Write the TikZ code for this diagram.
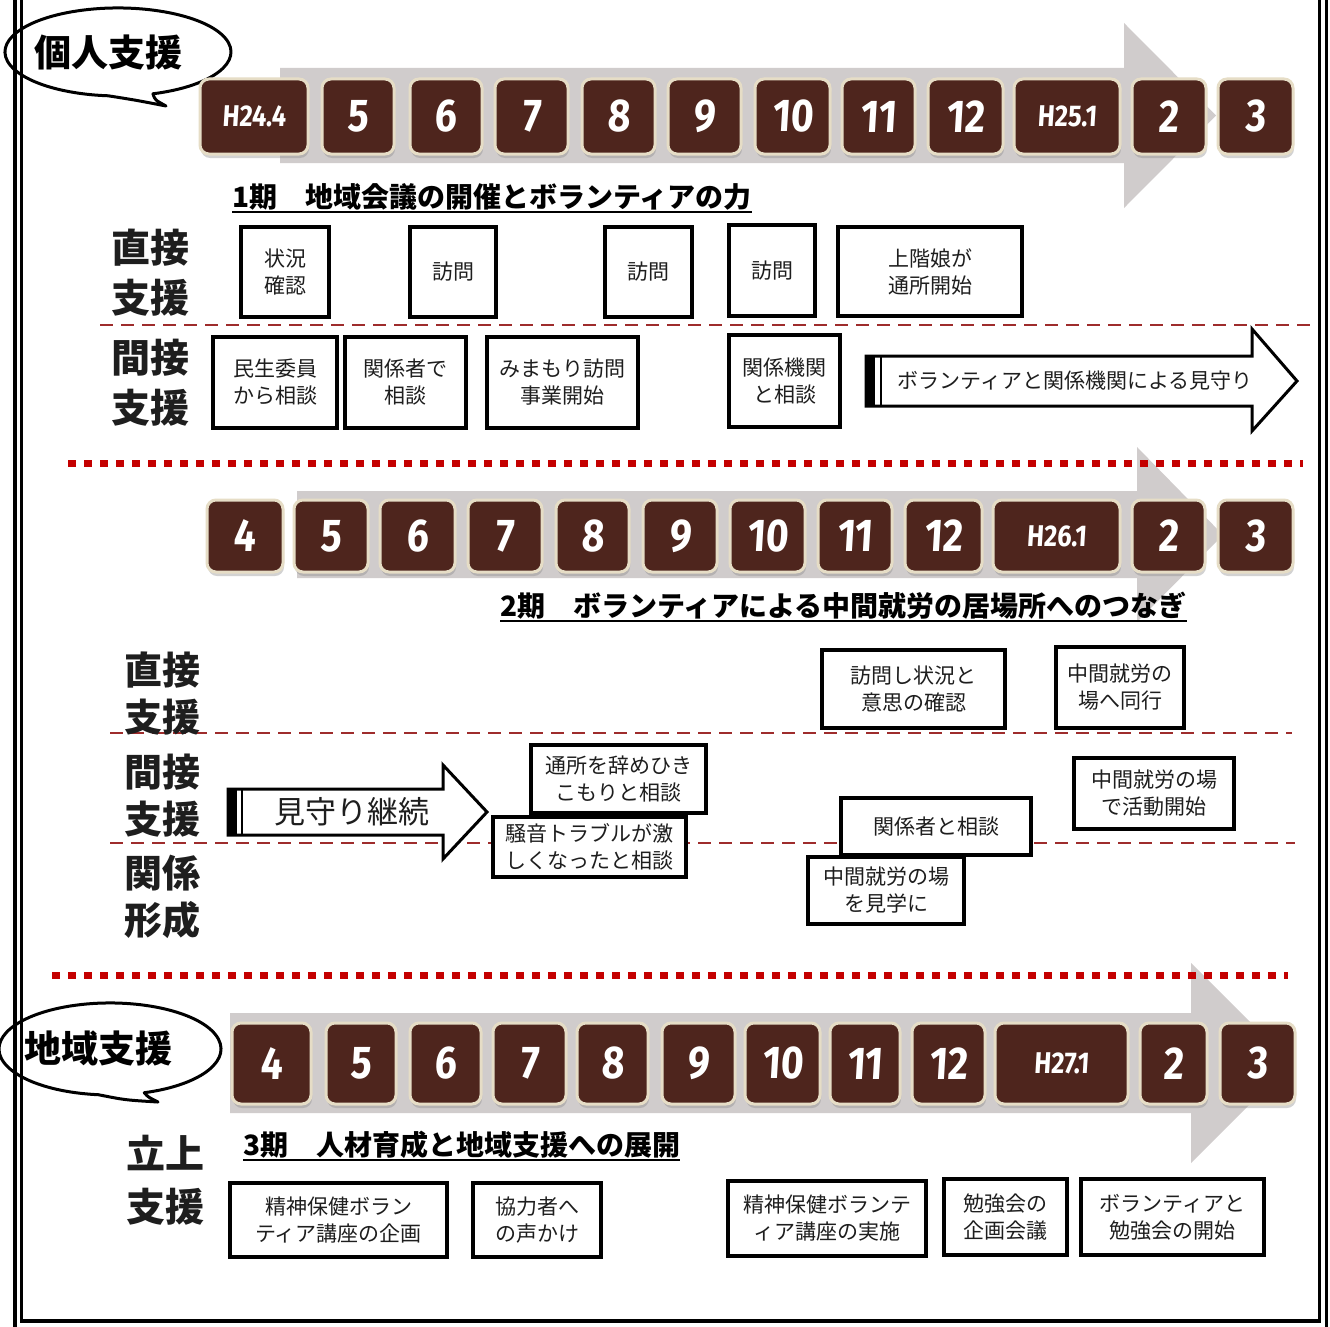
\documentclass[tikz,border=0pt]{standalone}
\usepackage{fontspec}
\setmainfont{Noto Sans CJK JP}
\newfontfamily\jp{Noto Sans CJK JP}
\newfontfamily\numfont[FakeStretch=0.85,FakeSlant=0.06]{Fira Sans}
\usetikzlibrary{shadows}
\definecolor{mbrown}{HTML}{4E251D}
\definecolor{cream}{HTML}{E6DDC6}
\definecolor{agray}{HTML}{D0CCCC}
\definecolor{dred}{HTML}{9E2C2C}
\definecolor{sred}{HTML}{C40000}
\definecolor{ink}{HTML}{1E1E1E}
\newcommand\hlab{\fontsize{30}{30}\selectfont}
% style, name, x1, y1, x2, y2, text
\newcommand\mkbox[7]{%
  \pgfmathsetmacro\mkbw{#5-#3}%
  \pgfmathsetmacro\mkbh{#6-#4}%
  \pgfmathsetmacro\mkbx{(#3+#5)/2}%
  \pgfmathsetmacro\mkby{(#4+#6)/2}%
  \node[#1,minimum width=\mkbw pt,minimum height=\mkbh pt] (#2) at (\mkbx,\mkby) {#7};}
\begin{document}
\begin{tikzpicture}[x=1pt,y=-1pt,
  mbox/.style={draw=cream,line width=3pt,fill=mbrown,rounded corners=9pt,inner sep=0pt,
     drop shadow={shadow xshift=1pt,shadow yshift=-4pt,opacity=0.35},
     text=white,font=\numfont\bfseries\fontsize{46}{46}\selectfont},
  wbox/.style={draw=black,line width=3.2pt,fill=white,inner sep=0pt,align=center,text=ink,font=\jp\fontsize{21}{27}\selectfont},
  lab/.style={align=center,text=ink,inner sep=0pt},
  head/.style={anchor=west,inner sep=0pt,text=black,font=\jp\bfseries\fontsize{28}{28}\selectfont},
  btext/.style={inner sep=0pt,text=black,font=\jp\bfseries\fontsize{37}{37}\selectfont},
  bubble/.style={draw=black,line width=3pt,fill=white,line join=round},
  sepdot/.style={draw=sred,line width=7pt,dash pattern=on 8pt off 8pt},
  sepdash/.style={draw=dred,line width=2.8pt,dash pattern=on 13pt off 8pt},
  barrow/.style={draw=black,line width=3pt,fill=white,line join=miter},
  gbar/.style={fill=agray},
  atext/.style={inner sep=0pt,text=ink,font=\jp\fontsize{21}{21}\selectfont}
]
\useasboundingbox (0,0) rectangle (1330,1327);
\fill[white] (0,0) rectangle (1330,1327);

% ---------- gray timeline arrows ----------
\fill[gbar] (280,68) -- (1124,68) -- (1124,23) -- (1216,115.5) -- (1124,208) -- (1124,163) -- (280,163) -- cycle;
\fill[gbar] (297,491) -- (1137,491) -- (1137,447) -- (1223,535) -- (1137,622) -- (1137,578) -- (297,578) -- cycle;
\fill[gbar] (230,1013) -- (1191,1013) -- (1191,963) -- (1291,1063) -- (1191,1163) -- (1191,1113) -- (230,1113) -- cycle;

% ---------- separators ----------
\draw[sepdot] (68,463) -- (1303,463);
\draw[sepdot] (52,975) -- (1288,975);
\draw[sepdash] (100,325) -- (1315,325);
\draw[sepdash] (110,733) -- (1292,733);
\draw[sepdash] (110,843) -- (1295,843);

% ---------- bubbles ----------
\draw[bubble] (152.9,93.8) arc[start angle=72, end angle=-265, x radius=113, y radius=44]
  .. controls (135,100) .. (166,106) .. controls (155,100) .. (152.9,93.8) -- cycle;
\node[btext] (bub1) at (108,52) {個人支援};
\draw[bubble] (144.3,1092.7) arc[start angle=72, end angle=-264, x radius=111, y radius=46]
  .. controls (125,1100) .. (158,1102) .. controls (148,1097) .. (144.3,1092.7) -- cycle;
\node[btext] (bub2) at (98,1048) {地域支援};

% ---------- month boxes row 1 ----------
\mkbox{mbox}{m1a}{200}{79}{308}{154}{\hlab H24.4}
\mkbox{mbox}{m1b}{322}{79}{394}{154}{5}
\mkbox{mbox}{m1c}{410}{79}{482}{154}{6}
\mkbox{mbox}{m1d}{495}{79}{568}{154}{7}
\mkbox{mbox}{m1e}{582}{79}{655}{154}{8}
\mkbox{mbox}{m1f}{668}{79}{741}{154}{9}
\mkbox{mbox}{m1g}{755}{79}{830}{154}{10}
\mkbox{mbox}{m1h}{842}{79}{915}{154}{11}
\mkbox{mbox}{m1i}{928}{79}{1003}{154}{12}
\mkbox{mbox}{m1j}{1014}{79}{1120}{154}{\hlab H25.1}
\mkbox{mbox}{m1k}{1132}{79}{1206}{154}{2}
\mkbox{mbox}{m1l}{1218}{79}{1293}{154}{3}

% ---------- month boxes row 2 ----------
\mkbox{mbox}{m2a}{207}{500}{283}{572}{4}
\mkbox{mbox}{m2b}{294}{500}{368}{572}{5}
\mkbox{mbox}{m2c}{380}{500}{455}{572}{6}
\mkbox{mbox}{m2d}{468}{500}{542}{572}{7}
\mkbox{mbox}{m2e}{556}{500}{629}{572}{8}
\mkbox{mbox}{m2f}{643}{500}{717}{572}{9}
\mkbox{mbox}{m2g}{730}{500}{805}{572}{10}
\mkbox{mbox}{m2h}{818}{500}{892}{572}{11}
\mkbox{mbox}{m2i}{905}{500}{982}{572}{12}
\mkbox{mbox}{m2j}{993}{500}{1120}{572}{\hlab H26.1}
\mkbox{mbox}{m2k}{1132}{500}{1205}{572}{2}
\mkbox{mbox}{m2l}{1218}{500}{1293}{572}{3}

% ---------- month boxes row 3 ----------
\mkbox{mbox}{m3a}{232}{1023}{311}{1104}{4}
\mkbox{mbox}{m3b}{326}{1023}{396}{1104}{5}
\mkbox{mbox}{m3c}{410}{1023}{481}{1104}{6}
\mkbox{mbox}{m3d}{493}{1023}{566}{1104}{7}
\mkbox{mbox}{m3e}{577}{1023}{648}{1104}{8}
\mkbox{mbox}{m3f}{662}{1023}{735}{1104}{9}
\mkbox{mbox}{m3g}{745}{1023}{820}{1104}{10}
\mkbox{mbox}{m3h}{830}{1023}{900}{1104}{11}
\mkbox{mbox}{m3i}{912}{1023}{985}{1104}{12}
\mkbox{mbox}{m3j}{995}{1023}{1128}{1104}{\hlab H27.1}
\mkbox{mbox}{m3k}{1140}{1023}{1207}{1104}{2}
\mkbox{mbox}{m3l}{1220}{1023}{1295}{1104}{3}

% ---------- headings ----------
\node[head] (h1) at (232,197) {1期　地域会議の開催とボランティアの力};
\node[head] (h2) at (500,606) {2期　ボランティアによる中間就労の居場所へのつなぎ};
\node[head] (h3) at (243,1145) {3期　人材育成と地域支援への展開};
\coordinate (u1) at (0,212);
\coordinate (u2) at (0,621);
\coordinate (u3) at (0,1160);
\draw[line width=2pt] (h1.west |- u1) -- (h1.east |- u1);
\draw[line width=2pt] (h2.west |- u2) -- (h2.east |- u2);
\draw[line width=2pt] (h3.west |- u3) -- (h3.east |- u3);

% ---------- row labels ----------
\node[lab,font=\jp\bfseries\fontsize{39}{50}\selectfont] (l1) at (150,273) {直接\\支援};
\node[lab,font=\jp\bfseries\fontsize{39}{50}\selectfont] (l2) at (150,383) {間接\\支援};
\node[lab,font=\jp\bfseries\fontsize{38}{47}\selectfont] (l3) at (162,694) {直接\\支援};
\node[lab,font=\jp\bfseries\fontsize{38}{47}\selectfont] (l4) at (162,796) {間接\\支援};
\node[lab,font=\jp\bfseries\fontsize{38}{47}\selectfont] (l5) at (162,897) {関係\\形成};
\node[lab,font=\jp\bfseries\fontsize{39}{53}\selectfont] (l6) at (165,1180) {立上\\支援};

% ---------- section 1 boxes ----------
\mkbox{wbox}{b1}{241}{227}{329}{317}{状況\\確認}
\mkbox{wbox}{b2}{410}{227}{496}{317}{訪問}
\mkbox{wbox}{b3}{605}{227}{692}{317}{訪問}
\mkbox{wbox}{b4}{729}{225}{815}{316}{訪問}
\mkbox{wbox}{b5}{838}{227}{1022}{316}{上階娘が\\通所開始}
\mkbox{wbox}{b6}{213}{337}{337}{428}{民生委員\\から相談}
\mkbox{wbox}{b7}{345}{337}{466}{428}{関係者で\\相談}
\mkbox{wbox}{b8}{487}{337}{638}{428}{みまもり訪問\\事業開始}
\mkbox{wbox}{b9}{729}{335}{840}{427}{関係機関\\と相談}

% block arrow 1
\draw[barrow] (866,356) -- (1252,356) -- (1252,329) -- (1297,381) -- (1252,431) -- (1252,406) -- (866,406) -- cycle;
\fill[black] (866,356) rectangle (875,406);
\draw[line width=2pt] (881,357) -- (881,405);
\node[atext] (ar1) at (1075,381) {ボランティアと関係機関による見守り};

% ---------- section 2 ----------
\draw[barrow] (228,789) -- (443,789) -- (443,765) -- (487,812) -- (443,859) -- (443,835) -- (228,835) -- cycle;
\fill[black] (228,789) rectangle (237,835);
\draw[line width=2pt] (242,790) -- (242,834);
\node[atext,font=\jp\fontsize{31}{31}\selectfont] (ar2) at (352,812) {見守り継続};

\mkbox{wbox}{c1}{822}{650}{1005}{728}{訪問し状況と\\意思の確認}
\mkbox{wbox}{c2}{1056}{647}{1184}{728}{中間就労の\\場へ同行}
\mkbox{wbox}{c3}{531}{745}{706}{813}{通所を辞めひき\\こもりと相談}
\mkbox{wbox}{c4}{493}{817}{686}{877}{騒音トラブルが激\\しくなったと相談}
\mkbox{wbox}{c5}{841}{798}{1031}{855}{関係者と相談}
\mkbox{wbox}{c6}{808}{857}{964}{924}{中間就労の場\\を見学に}
\mkbox{wbox}{c7}{1074}{758}{1234}{829}{中間就労の場\\で活動開始}

% ---------- section 3 ----------
\mkbox{wbox}{d1}{230}{1183}{447}{1257}{精神保健ボラン\\ティア講座の企画}
\mkbox{wbox}{d2}{473}{1183}{601}{1257}{協力者へ\\の声かけ}
\mkbox{wbox}{d3}{728}{1181}{926}{1256}{精神保健ボランテ\\ィア講座の実施}
\mkbox{wbox}{d4}{944}{1179}{1067}{1255}{勉強会の\\企画会議}
\mkbox{wbox}{d5}{1081}{1179}{1264}{1255}{ボランティアと\\勉強会の開始}

% ---------- frame ----------
\draw[line width=4pt] (15,0) -- (15,1327);
\draw[line width=3pt] (21.5,0) -- (21.5,1321);
\draw[line width=3pt] (1319,0) -- (1319,1321);
\draw[line width=3pt] (1326,0) -- (1326,1327);
\draw[line width=4pt] (20,1321) -- (1320.5,1321);
\end{tikzpicture}
\end{document}
